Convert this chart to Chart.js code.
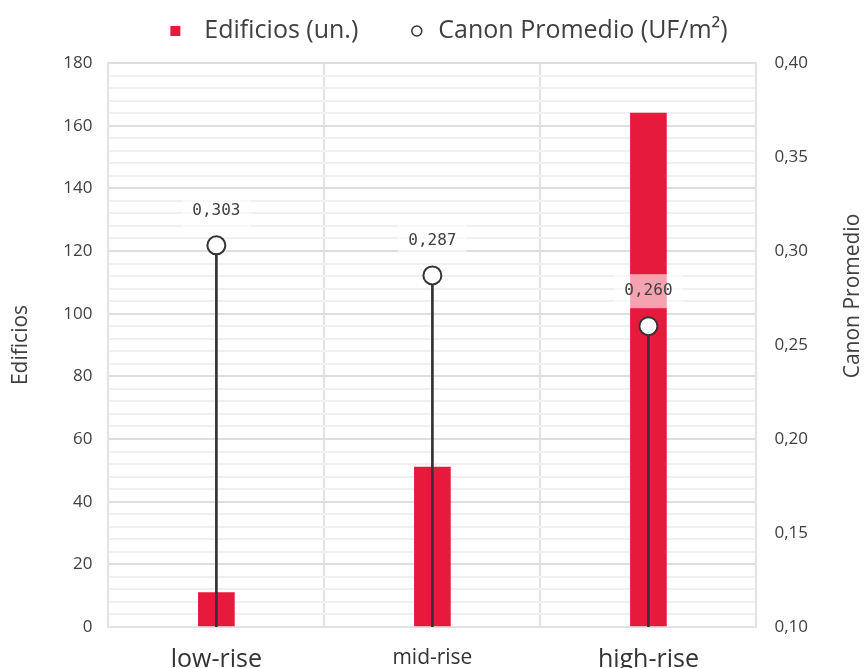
<!DOCTYPE html>
<html>
<head>
<meta charset="utf-8">
<script src="https://cdn.jsdelivr.net/npm/chart.js@4"></script>
<style>
  html, body { margin: 0; padding: 0; background: #fff; }
  #wrap { width: 868px; height: 668px; }
</style>
</head>
<body>
<div id="wrap"><canvas id="chart"></canvas></div>
<script>
// ===== DATA =====
const categorias = ["low-rise", "mid-rise", "high-rise"];
const edificios  = [11, 51, 164];
const canon      = [0.303, 0.287, 0.260];
const canonMin   = 0.10;
const leyenda    = ["Edificios (un.)", "Canon Promedio (UF/m²)"];

const rojo  = "#e61a3d";
const texto = "#404040";

// ===== etiquetas de valor sobre cada punto =====
const valueLabels = {
  id: "valueLabels",
  afterDatasetsDraw(chart) {
    const meta = chart.getDatasetMeta(2);
    const ctx = chart.ctx;
    ctx.save();
    ctx.font = "16px 'DejaVu Sans Mono'";
    ctx.textAlign = "center";
    ctx.textBaseline = "middle";
    meta.data.forEach((pt, i) => {
      const txt = canon[i].toFixed(3).replace(".", ",");
      const w = ctx.measureText(txt).width + 20;
      const y = pt.y - 35;
      ctx.fillStyle = "rgba(255,255,255,0.6)";
      ctx.fillRect(pt.x - w / 2, y - 17, w, 34);
      ctx.fillStyle = texto;
      ctx.fillText(txt, pt.x, y);
    });
    ctx.restore();
  }
};

// ===== leyenda superior + título del eje derecho =====
const extras = {
  id: "extras",
  afterDraw(chart) {
    const ctx = chart.ctx;
    ctx.save();
    ctx.font = "25px 'Open Sans'";
    ctx.fillStyle = texto;
    ctx.textBaseline = "middle";
    const w1 = ctx.measureText(leyenda[0]).width;
    const w2 = ctx.measureText(leyenda[1]).width;
    const total = 10 + 24 + w1 + 53 + 11 + 16 + w2;
    let x = 449 - total / 2;
    const y = 31;
    ctx.fillStyle = rojo;
    ctx.fillRect(x, y - 5, 10, 10);
    x += 34;
    ctx.fillStyle = texto;
    ctx.fillText(leyenda[0], x, y);
    x += w1 + 53;
    ctx.beginPath();
    ctx.arc(x + 5.5, y, 5, 0, Math.PI * 2);
    ctx.fillStyle = "#fff";
    ctx.fill();
    ctx.lineWidth = 1.5;
    ctx.strokeStyle = "#333";
    ctx.stroke();
    x += 27;
    ctx.fillStyle = texto;
    ctx.fillText(leyenda[1], x, y);

    ctx.translate(853, 296);
    ctx.rotate(-Math.PI / 2);
    ctx.font = "21px 'Open Sans'";
    ctx.textAlign = "center";
    ctx.fillText("Canon Promedio", 0, 0);
    ctx.restore();
  }
};

new Chart(document.getElementById("chart"), {
  data: {
    labels: categorias,
    datasets: [
      {
        type: "bar", label: leyenda[0], data: edificios, yAxisID: "y",
        backgroundColor: rojo, grouped: false, barThickness: 36, order: 3,
      },
      {
        type: "bar", label: "stem", data: canon.map(v => [canonMin, v]), yAxisID: "y1",
        backgroundColor: "#333", grouped: false, barThickness: 2, order: 2,
      },
      {
        type: "line", label: leyenda[1], data: canon, yAxisID: "y1",
        showLine: false, pointRadius: 9, pointHoverRadius: 9, pointBorderWidth: 2,
        pointBorderColor: "#333", pointBackgroundColor: "#fff", order: 1,
      },
    ],
  },
  options: {
    responsive: true,
    maintainAspectRatio: false,
    animation: false,
    layout: { padding: { left: 4, right: 42, top: 63, bottom: -25 } },
    plugins: {
      tooltip: { enabled: false },
      legend: { display: false },
    },
    scales: {
      x: {
        offset: true,
        grid: { offset: true, color: "#e2e2e2", lineWidth: 2, drawTicks: false },
        border: { color: "#e2e2e2", width: 2 },
        ticks: {
          padding: 18, color: "#333",
          font: ctx => ({ family: "'Open Sans'", size: ctx.index === 1 ? 21 : 25 }),
        },
      },
      y: {
        position: "left", min: 0, max: 180,
        grid: {
          color: ctx => ctx.tick.value % 20 === 0 ? "#dedede" : "#f0f0f0",
          lineWidth: 2, drawTicks: false,
        },
        border: { color: "#e2e2e2", width: 2 },
        ticks: {
          stepSize: 4, autoSkip: false, padding: 16, color: texto,
          font: { family: "'Open Sans'", size: 17 },
          callback: v => v % 20 === 0 ? v : "",
        },
        title: { display: true, text: "Edificios", color: texto, font: { family: "'Open Sans'", size: 21 }, padding: { bottom: 14 } },
      },
      y1: {
        position: "right", min: 0.10, max: 0.40,
        grid: { drawOnChartArea: false, drawTicks: false },
        border: { color: "#e2e2e2", width: 2 },
        ticks: {
          stepSize: 0.05, padding: 18, color: texto,
          font: { family: "'Open Sans'", size: 17 },
          callback: v => v.toFixed(2).replace(".", ","),
        },
      },
    },
  },
  plugins: [valueLabels, extras],
});
</script>
</body>
</html>
